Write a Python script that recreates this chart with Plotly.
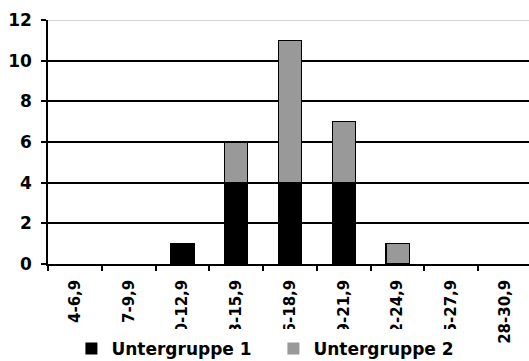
import plotly.graph_objects as go

# Class intervals and counts per subgroup
klassen = ["4-6,9", "7-9,9", "10-12,9", "13-15,9", "16-18,9",
           "19-21,9", "22-24,9", "25-27,9", "28-30,9"]
untergruppe_1 = [0, 0, 1, 4, 4, 4, 0, 0, 0]
untergruppe_2 = [0, 0, 0, 2, 7, 3, 1, 0, 0]
y_ticks = [0, 2, 4, 6, 8, 10, 12]

FONT = "DejaVu Sans, sans-serif"


def outline(values):
    # no outline on empty bars so they leave no mark on the axis
    return [1.2 if v else 0 for v in values]


fig = go.Figure()
fig.add_trace(go.Bar(
    x=klassen, y=untergruppe_1, name="Untergruppe 1",
    marker=dict(color="#000000",
                line=dict(color="#000000", width=outline(untergruppe_1))),
))
fig.add_trace(go.Bar(
    x=klassen, y=untergruppe_2, name="Untergruppe 2",
    marker=dict(color="#999999",
                line=dict(color="#000000", width=outline(untergruppe_2))),
))

fig.update_layout(
    width=529, height=361,
    margin=dict(l=48, r=0, t=20, b=97, autoexpand=False),
    barmode="stack", bargap=0.57,
    plot_bgcolor="white", paper_bgcolor="white",
    font=dict(family=FONT, size=17, color="black", weight="bold"),
    showlegend=True,
    legend=dict(
        orientation="h", xref="container", yref="container",
        x=0.135, y=0.083, xanchor="left", yanchor="top",
        bgcolor="rgba(0,0,0,0)", font=dict(size=17, family=FONT, weight="bold"),
        itemwidth=30, entrywidth=157, traceorder="normal",
    ),
)

fig.update_xaxes(
    type="category", range=[-0.5, 8.444],
    showline=True, linecolor="black", linewidth=1.5,
    ticks="outside", tickson="boundaries", ticklen=5, tickcolor="black", tickwidth=1.5,
    tickangle=-90, showgrid=False, ticklabelstandoff=8,
    tickfont=dict(family=FONT, size=15, weight="bold"),
)
fig.update_yaxes(
    range=[0, 12], tickvals=y_ticks,
    showline=True, linecolor="black", linewidth=1.5,
    ticks="outside", ticklen=5, tickcolor="black", tickwidth=1.5,
    showgrid=True, gridcolor="black", gridwidth=1.5,
    zeroline=False, ticklabelstandoff=6,
    tickfont=dict(family=FONT, size=17, weight="bold"),
)

# light frame line along the top of the plot area
fig.add_shape(type="line", xref="paper", yref="y", x0=0, x1=1, y0=12, y1=12,
              line=dict(color="#d4d4d4", width=2), layer="above")
# white legend panel, which hides the lower ends of the longer labels
fig.add_shape(type="rect", xref="paper", yref="paper",
              x0=0.0915, x1=0.881, y0=-0.3975, y1=-0.266,
              line=dict(width=0), fillcolor="white", layer="above")

fig.write_html("out.html")
